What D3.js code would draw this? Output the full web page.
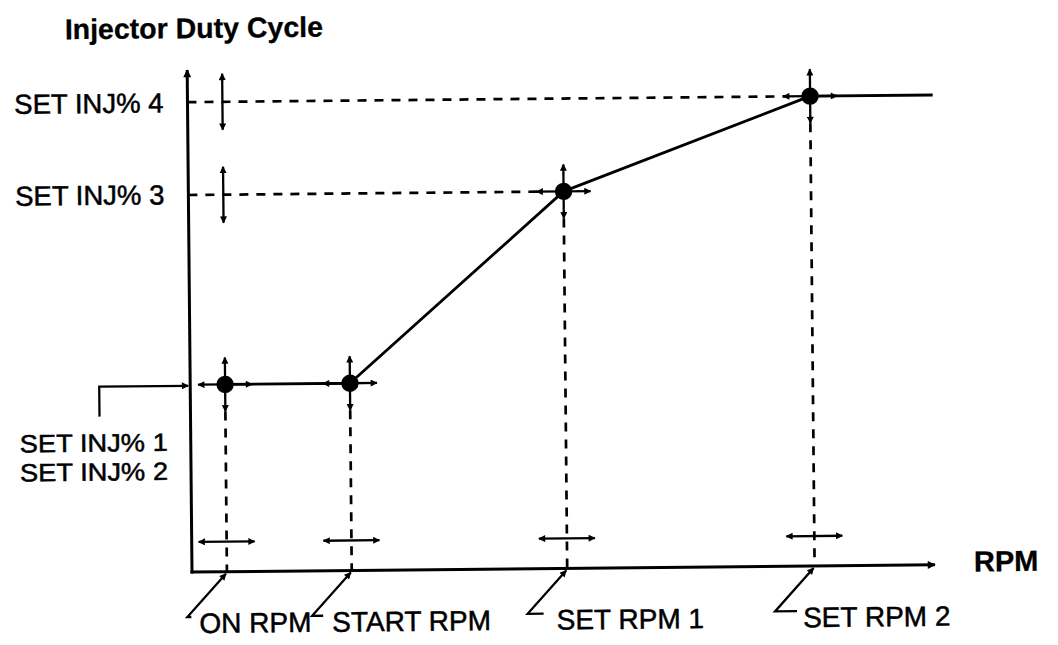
<!DOCTYPE html>
<html>
<head>
<meta charset="utf-8">
<script src="https://cdn.jsdelivr.net/npm/d3@7"></script>
<style>
  html, body { margin: 0; padding: 0; background: #fff; }
  svg { display: block; }
  text { font-family: "Liberation Sans", Arial, Helvetica, sans-serif; fill: #000; }
</style>
</head>
<body>
<svg id="chart" width="1058" height="645"></svg>
<script>
// Breakpoints of the injector duty-cycle schedule (schematic units 0..100)
const rpmLabels = ["ON RPM", "START RPM", "SET RPM 1", "SET RPM 2"];
const rpmValues = [4.7, 21.5, 50.5, 83.8];
const dutyLabels = ["SET INJ% 1", "SET INJ% 2", "SET INJ% 3", "SET INJ% 4"];
const dutyValues = [37.3, 37.3, 75.1, 93.6];
const rpmAxisMax = 100;
const dutyAxisMax = 100;
const curveEndRpm = 100.3;

const svg = d3.select("#chart");

const x = d3.scaleLinear().domain([0, rpmAxisMax]).range([192, 935]);
const y = d3.scaleLinear().domain([0, dutyAxisMax]).range([572, 70]);
const x0 = x(0), y0 = y(0);

// arrowheads
const defs = svg.append("defs");
function marker(id, len, wid) {
  defs.append("marker")
    .attr("id", id)
    .attr("viewBox", "0 0 10 10")
    .attr("refX", 9).attr("refY", 5)
    .attr("markerWidth", len).attr("markerHeight", wid)
    .attr("markerUnits", "userSpaceOnUse")
    .attr("orient", "auto-start-reverse")
    .append("path").attr("d", "M0,0 L10,5 L0,10 Z").attr("fill", "#000");
}
marker("ah", 9, 7);
marker("axh", 12, 8);

// the drawing sits very slightly rotated on the page
const g = svg.append("g").attr("transform", `rotate(-0.55, ${x0}, ${y0})`);

const ARM = 27;      // length of the adjustment arrows around each breakpoint

function arrow(x1, y1, x2, y2, both) {
  const l = g.append("line")
    .attr("x1", x1).attr("y1", y1).attr("x2", x2).attr("y2", y2)
    .attr("stroke", "#000").attr("stroke-width", 2.3)
    .attr("marker-end", "url(#ah)");
  if (both) l.attr("marker-start", "url(#ah)");
  return l;
}
function dashed(x1, y1, x2, y2) {
  g.append("line")
    .attr("x1", x1).attr("y1", y1).attr("x2", x2).attr("y2", y2)
    .attr("stroke", "#000").attr("stroke-width", 2.7)
    .attr("stroke-dasharray", "9,8");
}

// axes
g.append("line").attr("x1", x0).attr("y1", y0 + 1.5).attr("x2", x0).attr("y2", y(dutyAxisMax))
  .attr("stroke", "#000").attr("stroke-width", 3).attr("marker-end", "url(#axh)");
g.append("line").attr("x1", x0 - 1.5).attr("y1", y0).attr("x2", x(rpmAxisMax)).attr("y2", y0)
  .attr("stroke", "#000").attr("stroke-width", 3).attr("marker-end", "url(#axh)");

// guide lines from the upper duty levels to the y axis
[2, 3].forEach(i => {
  const yy = y(dutyValues[i]);
  dashed(x0, yy, x(rpmValues[i]) - ARM + 2, yy);
  // adjustment arrow on the guide at the ON RPM column
  arrow(x(rpmValues[0]), yy - ARM - 1, x(rpmValues[0]), yy + ARM + 1, true);
});

// vertical guides down to the rpm axis with adjustment arrows
rpmValues.forEach((v, i) => {
  const xx = x(v), yy = y(dutyValues[i]);
  dashed(xx, yy + ARM, xx, y0);
  arrow(xx - 28, y0 - 30, xx + 28, y0 - 30, true);
});

// schedule curve
const pts = rpmValues.map((v, i) => [x(v), y(dutyValues[i])]);
pts.push([x(curveEndRpm), y(dutyValues[3])]);
g.append("path")
  .attr("d", d3.line()(pts))
  .attr("fill", "none").attr("stroke", "#000").attr("stroke-width", 2.8)
  .attr("stroke-linejoin", "round");

// breakpoints with four-way adjustment arrows
pts.slice(0, 4).forEach(([px, py]) => {
  arrow(px, py, px, py - ARM);
  arrow(px, py, px, py + ARM);
  arrow(px, py, px - ARM, py);
  arrow(px, py, px + ARM, py);
  g.append("circle").attr("cx", px).attr("cy", py).attr("r", 8.7).attr("fill", "#000");
});

// text helper
function label(txt, tx, ty, anchor, size, bold) {
  return g.append("text")
    .attr("x", tx).attr("y", ty)
    .attr("text-anchor", anchor || "start")
    .attr("font-size", size)
    .attr("font-weight", bold ? "bold" : "normal")
    .attr("stroke", "#000").attr("stroke-width", bold ? 0.3 : 0.5)
    .text(txt);
}

// y-axis labels
label(dutyLabels[3], 168, y(dutyValues[3]) + 10, "end", 27.5);
label(dutyLabels[2], 168, y(dutyValues[2]) + 9, "end", 27.5);

// shared labels for INJ% 1 and INJ% 2, stacked under the leader
[0, 1].forEach(i => {
  label(dutyLabels[i], 21, y(dutyValues[0]) + 66 + i * 29, "start", 25)
    .attr("textLength", 148).attr("lengthAdjust", "spacingAndGlyphs");
});

// leader from the shared INJ% 1 / 2 label to the y axis
const hy = y(dutyValues[0]) + 1;
g.append("path")
  .attr("d", `M101,${hy + 30} L101,${hy} L${x0 - 2},${hy}`)
  .attr("fill", "none").attr("stroke", "#000").attr("stroke-width", 2.3)
  .attr("marker-end", "url(#ah)");

// rpm labels with leaders
const footLen = [4, 11, 16, 22];
const textShift = [12, 20, 29, 28];
rpmValues.forEach((v, i) => {
  const xx = x(v);
  const cx = xx - 40, cy = y0 + 45;
  g.append("path")
    .attr("d", `M${cx + footLen[i]},${cy} L${cx},${cy} L${xx - 1},${y0 + 2}`)
    .attr("fill", "none").attr("stroke", "#000").attr("stroke-width", 2.3)
    .attr("marker-end", "url(#ah)");
  label(rpmLabels[i], cx + textShift[i], y0 + 61, "start", 28);
});

// axis titles
label("RPM", 974, y0 + 7, "start", 29, true);
label("Injector Duty Cycle", 70, 38, "start", 28.5, true);
</script>
</body>
</html>
